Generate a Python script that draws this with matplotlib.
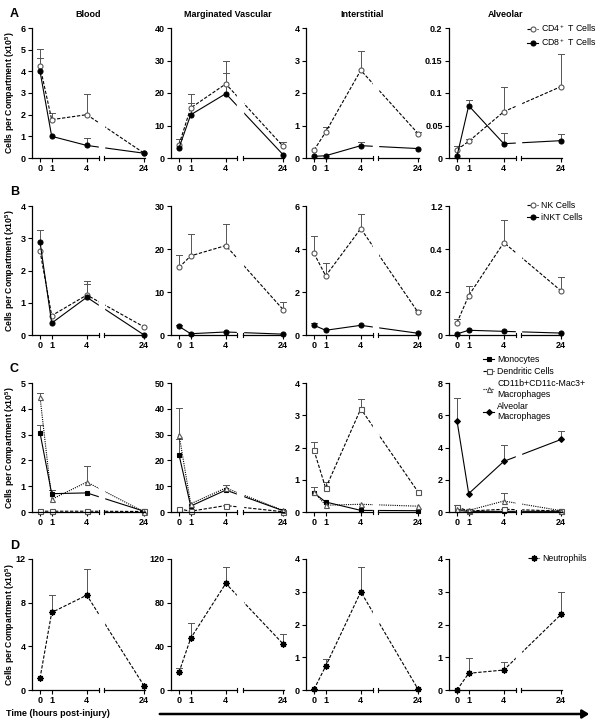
import matplotlib
matplotlib.use('Agg')
import matplotlib.pyplot as plt
import matplotlib.transforms as mtransforms
from matplotlib.patches import FancyArrowPatch

plt.rcParams['font.family'] = ['Liberation Sans', 'DejaVu Sans']
plt.rcParams['mathtext.fontset'] = 'custom'
plt.rcParams['mathtext.rm'] = 'Liberation Sans'
plt.rcParams['mathtext.bf'] = 'Liberation Sans:bold'

hours = [0, 1, 4, 24]
hour_labels = ['0', '1', '4', '24']
xpos = [0, 1, 4, 8.9]   # 24 h drawn after the axis break
brk = (5.0, 5.5)

compartments = ['Blood', 'Marginated Vascular', 'Interstitial', 'Alveolar']

# row A: T cells
cd4 = [[4.23, 1.77, 2.0, 0.22], [4.1, 15.4, 22.8, 3.6], [0.24, 0.8, 2.7, 0.75], [0.0128, 0.0256, 0.0713, 0.110]]
cd4_err = [[5.03, 2.08, 2.95, None], [5.8, 19.8, 30.0, 4.8], [None, 0.95, 3.3, 0.8], [0.018, 0.029, 0.109, 0.16]]
cd8 = [[4.0, 1.0, 0.58, 0.22], [3.1, 13.3, 19.8, 1.0], [0.05, 0.07, 0.38, 0.29], [0.003, 0.0805, 0.022, 0.0267]]
cd8_err = [[4.6, None, 0.92, None], [None, 16.9, 26.2, None], [None, None, 0.49, None], [None, 0.0897, 0.038, 0.037]]

# row B: NK / iNKT
nk = [[2.61, 0.6, 1.24, 0.25], [15.7, 18.4, 20.8, 5.9], [3.8, 2.75, 4.95, 1.05], [0.057, 0.183, 0.43, 0.205]]
nk_err = [[None, None, 1.68, None], [18.6, 23.4, 25.9, 7.6], [4.6, 3.36, 5.63, 1.17], [0.073, 0.228, 0.537, 0.271]]
inkt = [[2.89, 0.37, 1.17, 0.0], [2.0, 0.3, 0.7, 0.2], [0.45, 0.22, 0.45, 0.08], [0.005, 0.022, 0.017, 0.009]]
inkt_err = [[3.25, None, 1.57, None], [2.4, None, None, None], [0.55, None, None, None], [None, None, None, None]]

# row C: myeloid cells
mono = [[3.07, 0.71, 0.74, 0.03], [22.2, 2.3, 8.5, 0.5], [0.59, 0.31, 0.05, 0.04], [0.1, 0.04, 0.04, 0.04]]
mono_err = [[3.36, 0.84, None, None], [28.2, None, 10.3, None], [0.78, None, None, None], [None, None, None, None]]
dc = [[0.03, 0.03, 0.03, 0.02], [1.2, 0.3, 2.5, 0.1], [1.91, 0.74, 3.2, 0.62], [0.31, 0.06, 0.17, 0.06]]
dc_err = [[None, None, None, None], [None, None, None, None], [2.17, 0.93, 3.51, None], [0.41, None, None, None]]
mac = [[4.46, 0.49, 1.16, 0.0], [30.0, 3.2, 9.3, 0.6], [0.62, 0.21, 0.24, 0.18], [0.17, 0.1, 0.68, 0.08]]
mac_err = [[4.63, None, 1.77, None], [40.3, None, None, None], [None, None, None, None], [None, None, 1.2, None]]
am = [None, None, None, [5.66, 1.14, 3.14, 4.5]]
am_err = [None, None, None, [7.09, None, 4.13, 5.02]]

# row D: neutrophils
neut = [[1.07, 7.1, 8.69, 0.37], [16.2, 47.4, 97.6, 42.2], [0.02, 0.73, 3.0, 0.02], [0.0, 0.51, 0.61, 2.31]]
neut_err = [[None, 8.72, 11.1, None], [19.9, 61.2, 112.6, 51.1], [None, 0.95, 3.76, None], [None, 0.97, 0.87, 2.99]]

yticks = [
    [[0, 1, 2, 3, 4, 5, 6], [0, 10, 20, 30, 40], [0, 1, 2, 3, 4], [0, 0.05, 0.1, 0.15, 0.2]],
    [[0, 1, 2, 3, 4], [0, 10, 20, 30], [0, 2, 4, 6], [0, 0.2, 0.4, 0.6]],
    [[0, 1, 2, 3, 4, 5], [0, 10, 20, 30, 40, 50], [0, 1, 2, 3, 4], [0, 2, 4, 6, 8]],
    [[0, 4, 8, 12], [0, 40, 80, 120], [0, 1, 2, 3, 4], [0, 1, 2, 3, 4]],
]
ytick_labels = [
    [None, None, None, ['0', '0.05', '0.1', '0.15', '0.2']],
    [None, None, None, ['0', '0.2', '0.4', '1.2']],
    [None, None, None, None],
    [None, None, None, None],
]

W, H = 603, 726
fig = plt.figure(figsize=(W / 100, H / 100), dpi=100)

col_x0 = [40, 179, 314, 457]        # pixel of x=0
row_top = [28, 206, 383, 559]
row_bot = [158, 335, 512, 690]
pxh = 11.7
xlo, xhi = -0.7, 9.0

GREY = '#555555'
styles = {
    'cd4': dict(ls=(0, (3, 1.5)), marker='o', mfc='white', mec=GREY, ms=3.6, label='CD4$^+$ T Cells'),
    'cd8': dict(ls='-', marker='o', mfc='black', mec='black', ms=3.6, label='CD8$^+$ T Cells'),
    'nk': dict(ls=(0, (3, 1.5)), marker='o', mfc='white', mec=GREY, ms=3.6, label='NK Cells'),
    'inkt': dict(ls='-', marker='o', mfc='black', mec='black', ms=3.6, label='iNKT Cells'),
    'mono': dict(ls='-', marker='s', mfc='black', mec='black', ms=3.4, label='Monocytes'),
    'dc': dict(ls=(0, (3, 1.5)), marker='s', mfc='white', mec=GREY, ms=3.6, label='Dendritic Cells'),
    'mac': dict(ls=(0, (1, 1)), marker='^', mfc='white', mec=GREY, ms=3.6, label='CD11b+CD11c-Mac3+\nMacrophages'),
    'am': dict(ls='-', marker='D', mfc='black', mec='black', ms=3.0, label='Alveolar\nMacrophages'),
    'neut': dict(ls=(0, (3, 1.5)), marker=(8, 2, 0), mfc='black', mec='black', ms=4.5, mew=1.0, label='Neutrophils'),
}

rows = [
    [('cd4', cd4, cd4_err), ('cd8', cd8, cd8_err)],
    [('nk', nk, nk_err), ('inkt', inkt, inkt_err)],
    [('mono', mono, mono_err), ('dc', dc, dc_err), ('mac', mac, mac_err), ('am', am, am_err)],
    [('neut', neut, neut_err)],
]


def draw_series(ax, key, vals, errs):
    st = dict(styles[key])
    label = st.pop('label')
    mew = st.pop('mew', 0.8)
    line, = ax.plot(xpos, vals, color='black', lw=0.8, mew=mew, zorder=4, label=label, clip_on=False, **st)
    if errs is not None:
        for x, v, e in zip(xpos, vals, errs):
            if e is None:
                continue
            ax.plot([x, x], [v, e], color=GREY, lw=0.7, zorder=3, clip_on=False)
            ax.plot([x - 0.25, x + 0.25], [e, e], color=GREY, lw=0.7, zorder=3, clip_on=False)
    return line


for r in range(4):
    for c in range(4):
        left_px = col_x0[c] + xlo * pxh
        width_px = (xhi - xlo) * pxh
        bottom = 1 - row_bot[r] / H
        height = (row_bot[r] - row_top[r]) / H
        ax = fig.add_axes([left_px / W, bottom, width_px / W, height])
        handles = []
        for key, data, errs in rows[r]:
            if data[c] is None:
                continue
            handles.append(draw_series(ax, key, data[c], errs[c]))
        yt = yticks[r][c]
        ax.set_ylim(yt[0], yt[-1])
        ax.set_xlim(xlo, xhi)
        ax.set_yticks(yt)
        if ytick_labels[r][c] is not None:
            ax.set_yticklabels(ytick_labels[r][c])
        else:
            ax.set_yticklabels([('%g' % v) for v in yt])
        ax.set_xticks(xpos)
        ax.set_xticklabels(hour_labels)
        for s in ['top', 'right', 'bottom']:
            ax.spines[s].set_visible(False)
        ax.spines['left'].set_linewidth(0.9)
        ax.tick_params(axis='both', direction='out', length=3, width=0.8, labelsize=6.5, pad=1.5)
        for lbl in ax.get_xticklabels() + ax.get_yticklabels():
            lbl.set_fontweight('bold')
        # broken x axis
        trans = mtransforms.blended_transform_factory(ax.transData, ax.transAxes)
        ax.axvspan(brk[0], brk[1], color='white', zorder=5)
        ax.plot([xlo, brk[0]], [0, 0], color='black', lw=0.9, transform=trans, clip_on=False, zorder=6)
        ax.plot([brk[1], xhi], [0, 0], color='black', lw=0.9, transform=trans, clip_on=False, zorder=6)
        for bx in brk:
            ax.plot([bx, bx], [-0.018, 0.018], color='black', lw=0.8, transform=trans, clip_on=False, zorder=6)
        if r == 0:
            ax.set_title(compartments[c], fontsize=6.5, fontweight='bold', pad=8)
        if c == 0:
            ax.set_ylabel(r'Cells per Compartment (x10$^{\mathbf{5}}$)', fontsize=6.2, fontweight='bold')
            ax.yaxis.set_label_coords((17 - left_px) / width_px, 0.5)
        if c == 3:
            anchors = [(527, 22), (527, 201), (483, 355), (528, 554)]
            ax_ = anchors[r]
            fig.legend(handles=handles, loc='upper left', bbox_to_anchor=(ax_[0] / W, 1 - ax_[1] / H),
                       frameon=False, fontsize=6.3, handlelength=1.3, handletextpad=0.35,
                       labelspacing=0.35, borderpad=0, borderaxespad=0)

for letter, y in zip('ABCD', [8, 186, 363, 540]):
    fig.text(10 / W, 1 - y / H, letter, fontsize=9, fontweight='bold', va='top', ha='left')

fig.text(6 / W, 1 - 714 / H, 'Time (hours post-injury)', fontsize=6.5, fontweight='bold', va='center', ha='left')
fig.add_artist(FancyArrowPatch((157 / W, 1 - 714 / H), (592 / W, 1 - 714 / H),
                               transform=fig.transFigure, arrowstyle='-|>,head_length=4,head_width=2.5',
                               lw=1.8, color='black', mutation_scale=1))

fig.savefig('out.png', dpi=100)
